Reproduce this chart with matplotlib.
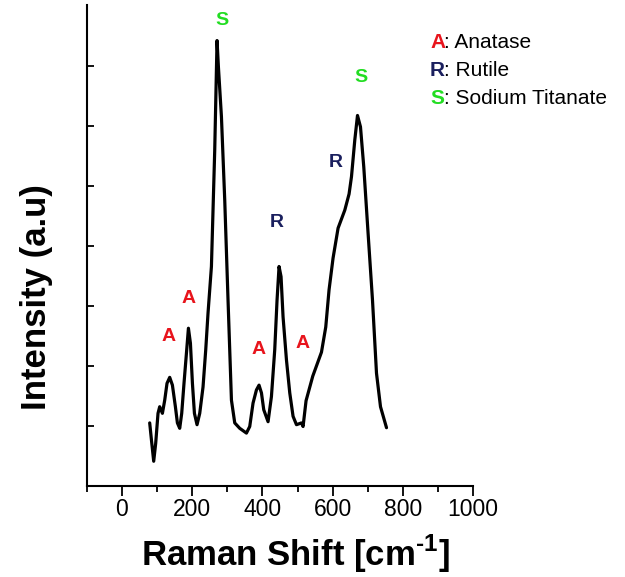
import numpy as np
import matplotlib
matplotlib.use("Agg")
import matplotlib.pyplot as plt

plt.rcParams['font.family'] = ['Liberation Sans', 'DejaVu Sans']
plt.rcParams['mathtext.fontset'] = 'custom'
plt.rcParams['mathtext.bf'] = 'Liberation Sans:bold'
plt.rcParams['mathtext.rm'] = 'Liberation Sans:bold'

# Raman spectrum
shift = [78.9, 83.8, 90.3, 96.0, 102.6, 107.4, 115.1, 121.7, 128.2, 135.9,
         143.6, 152.1, 157.8, 164.4, 170.1, 176.6, 183.5, 189.2, 194.9, 200.6,
         206.3, 213.7, 221.4, 230.8, 238.5, 245.0, 254.7, 264.1, 270.7, 274.6,
         283.2, 292.6, 302.0, 311.7, 321.1, 335.3, 354.4, 363.8, 373.2, 382.9,
         390.3, 397.2, 403.7, 416.0, 425.6, 435.0, 441.6, 447.3, 453.0, 458.7,
         468.4, 477.8, 487.2, 496.9, 511.1, 515.7, 524.2, 543.3, 568.1, 580.3,
         589.7, 601.1, 615.4, 634.5, 646.7, 653.6, 663.0, 670.7, 679.2, 688.6,
         700.9, 713.4, 724.8, 736.2, 753.3]
intensity = [1.05, 0.77, 0.41, 0.71, 1.21, 1.32, 1.21, 1.43, 1.71, 1.81,
             1.68, 1.32, 1.05, 0.96, 1.21, 1.71, 2.21, 2.63, 2.38, 1.71,
             1.21, 1.02, 1.21, 1.65, 2.27, 2.88, 3.66, 5.60, 7.43, 6.99,
             6.16, 4.77, 3.10, 1.43, 1.05, 0.96, 0.88, 0.99, 1.38, 1.60,
             1.68, 1.55, 1.27, 1.07, 1.49, 2.27, 3.10, 3.66, 3.49, 2.82,
             2.10, 1.55, 1.16, 1.02, 1.05, 0.99, 1.42, 1.83, 2.23, 2.65,
             3.27, 3.80, 4.30, 4.60, 4.87, 5.16, 5.77, 6.18, 5.99, 5.32,
             4.21, 3.10, 1.88, 1.32, 0.97]

# peak labels
peak_text = ['S', 'S', 'R', 'R', 'A', 'A', 'A', 'A']
peak_x = [284, 680, 441, 610, 133, 190, 390, 514]
peak_y = [7.77, 6.82, 4.40, 5.40, 2.50, 3.13, 2.27, 2.38]

phase_letter = ['A', 'R', 'S']
phase_name = ['Anatase', 'Rutile', 'Sodium Titanate']
phase_color = {'A': '#e8141c', 'R': '#1a1f5e', 'S': '#22dd22'}

fig = plt.figure(figsize=(6.25, 5.77), dpi=100)
ax = fig.add_axes([0.139, 0.158, 0.618, 0.833])

ax.plot(shift, intensity, color='black', lw=2.3, solid_joinstyle='round',
        solid_capstyle='round')

for t, x, y in zip(peak_text, peak_x, peak_y):
    ax.text(x, y, t, color=phase_color[t], fontsize=14, fontweight='bold',
            ha='center', va='center')

# legend written as text, coloured letter + black name
for i, (l, n) in enumerate(zip(phase_letter, phase_name)):
    fy = 1 - (42 + 28 * i) / 577
    fig.text(430 / 625, fy, l, color=phase_color[l], fontsize=15,
             fontweight='bold', va='center', ha='left')
    fig.text(444 / 625, fy, ': ' + n, color='black', fontsize=15,
             va='center', ha='left')

ax.set_xlim(-100, 1000)
ax.set_ylim(0, 8.02)
ax.set_xticks(np.arange(0, 1001, 200))
ax.set_xticks(np.arange(-100, 1001, 100), minor=True)
ax.set_yticks(np.arange(1, 8))
ax.set_yticklabels([])
ax.tick_params(axis='x', which='major', direction='out', length=7, width=1.3,
               labelsize=16.5, pad=2)
ax.tick_params(axis='x', which='minor', direction='out', length=4, width=1.3)
ax.tick_params(axis='y', direction='in', length=5, width=1.3)

for s in ['top', 'right']:
    ax.spines[s].set_visible(False)
for s in ['left', 'bottom']:
    ax.spines[s].set_linewidth(1.5)

ax.set_xlabel('Raman Shift [cm$^{\\text{-1}}$]', fontsize=25, fontweight='bold')
ax.set_ylabel('Intensity (a.u)', fontsize=25, fontweight='bold')
ax.xaxis.set_label_coords(0.541, -0.098)
ax.yaxis.set_label_coords(-0.088, 0.393)

fig.savefig('out.png', dpi=100)
